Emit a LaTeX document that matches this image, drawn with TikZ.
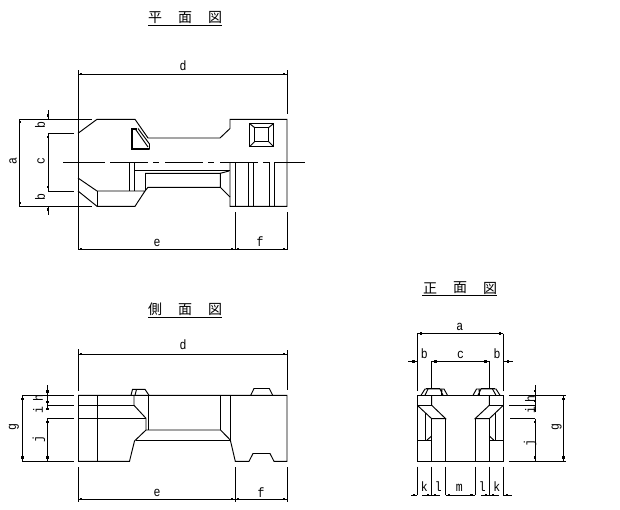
\documentclass[tikz,border=0pt]{standalone}
\usepackage{fontspec}
\setmainfont[FakeStretch=0.85]{Liberation Mono}
\newfontfamily\cjkf{Noto Sans CJK JP}
\newcommand{\tp}[2]{\fill (#1-1.4,#2-1.4) rectangle (#1+1.4,#2+1.4);}
\tikzset{
  lbl/.style={inner sep=0pt,font=\fontsize{13.5}{14}\selectfont},
  rlbl/.style={lbl,rotate=90},
  ttl/.style={inner sep=0pt,font=\cjkf\fontsize{14}{14}\selectfont},
  ln/.style={line width=0.95pt,line cap=butt,line join=miter},
  thk/.style={line width=2pt,line join=miter}
}
\begin{document}
\begin{tikzpicture}[x=1pt,y=-1pt,ln]
\useasboundingbox (0,0) rectangle (620,509);
\fill[white] (0,0) rectangle (620,509);
% ===== titles =====
\foreach \cx/\ch in {155/平,185/面,215/図}{\node[ttl] at (\cx,17.5) {\ch};}
\draw (148,25) -- (222,25);
\foreach \cx/\ch in {155/側,185/面,215/図}{\node[ttl] at (\cx,309.5) {\ch};}
\draw (148,317) -- (222,317);
\foreach \cx/\ch in {430/正,460/面,490/図}{\node[ttl] at (\cx,288) {\ch};}
\draw (422,295) -- (497,295);
% ===== plan view =====
\draw (78,70) -- (78,250);
\draw (287,70) -- (287,114);
\draw (235,212) -- (235,250);
\draw (287,212) -- (287,250);
\draw (78,74) -- (287,74); \tp{81}{74}\tp{284}{74}
\draw (78,249) -- (287,249); \tp{81}{249}\tp{232}{249}\tp{238}{249}\tp{284}{249}
\node[lbl] at (183,66) {d};
\node[lbl] at (157,242.5) {e};
\node[lbl] at (260,242) {f};
% outline
\draw (19,119.3) -- (92,119.3);
\draw (19,206.3) -- (92,206.3);
\draw (19,119.3) -- (19,206.3); \tp{20}{122}\tp{20}{203}
\draw (48,133.3) -- (74,133.3);
\draw (48,191) -- (74,191);
\draw (48,133.3) -- (48,191); \tp{48}{137}\tp{48}{187}
\draw (48,110) -- (48,119.3); \tp{48}{115.5}
\draw (48,206.3) -- (48,215); \tp{48}{209.5}
\node[rlbl] at (13,161) {a};
\node[rlbl] at (40,125.5) {b};
\node[rlbl] at (41,161) {c};
\node[rlbl] at (40,197) {b};
\draw (78,133.3) -- (97,119.3) -- (135,119.3) -- (148,138) -- (220,138) -- (230,128.5) -- (230,119.3) -- (287,119.3) -- (287,206.3) -- (230,206.3) -- (230,162);
\draw (78,178) -- (97,191) -- (145,191) -- (135,206.3) -- (97,206.3) -- (78,191);
\draw (97,191) -- (97,206.3);
% triangle window
\draw[thk] (137,129) -- (132,129) -- (132,149) -- (149,149);
\draw (138,128.5) -- (149.5,144) -- (149.5,149.5);
\draw (135,128.5) -- (148,147);
% centre line
\draw (63,162.3) -- (105,162.3);
\draw (110,162.3) -- (148,162.3);
\draw (153,162.3) -- (159,162.3);
\draw (165,162.3) -- (203,162.3);
\draw (208,162.3) -- (214,162.3);
\draw (220,162.3) -- (258,162.3);
\draw (263,162.3) -- (269,162.3);
\draw (274,162.3) -- (305,162.3);
% centre recess
\draw (129.3,162) -- (129.3,191);
\draw (134.3,162) -- (134.3,191);
\draw (135,170.3) -- (226,170.3);
\draw[line width=1.7pt] (135,170.6) -- (145,170.6);
\draw[line width=1.7pt] (225,170.6) -- (229.5,170.6);
\draw (145,173.3) -- (220.3,173.3) -- (220.3,187.3) -- (148,187.3) -- (145,191);
\draw (145,173.3) -- (145,191);
\draw (220.3,173.3) -- (229,171);
\draw (220.3,187.3) -- (230,197);
% right block ribs
\foreach \xx in {235.3,248.6,253.3,269.5,274.5}{\draw (\xx,162) -- (\xx,206.3);}
% square
\draw[line width=1.4pt] (249.5,123.5) rectangle (273.7,146.7);
\draw (254.5,127.5) rectangle (268.7,141.7);
\draw (249.5,123.5) -- (254.5,127.5);
\draw (273.7,123.5) -- (268.7,127.5);
\draw (249.5,146.7) -- (254.5,141.7);
\draw (273.7,146.7) -- (268.7,141.7);
% ===== side view =====
\draw (78,349) -- (78,391);
\draw (78,395.3) -- (78,461.3);
\draw (78,467) -- (78,502);
\draw (287,350) -- (287,390);
\draw (287,467) -- (287,502);
\draw (235.3,467) -- (235.3,502);
\draw (78,354) -- (287,354); \tp{81}{354}\tp{284}{354}
\draw (78,499) -- (287,499); \tp{81}{499}\tp{232}{499}\tp{238}{499}\tp{284}{499}
\node[lbl] at (183,345) {d};
\node[lbl] at (157,493) {e};
\node[lbl] at (261,492.5) {f};
\draw (22,395.3) -- (74,395.3);
\draw (22,461.3) -- (74,461.3);
\draw (48,405.3) -- (74,405.3);
\draw (48,418.3) -- (74,418.3);
\draw (22.3,395.3) -- (22.3,461.3); \tp{22.3}{399}\tp{22.3}{457.5}
\draw (47.5,385) -- (47.5,410); \tp{47.5}{391.5}\tp{47.5}{402}\tp{47.5}{409}
\draw (47.5,418.3) -- (47.5,461.3); \tp{47.5}{422}\tp{47.5}{457.5}
\node[rlbl] at (14,427) {g};
\node[rlbl] at (38,398) {h};
\node[rlbl] at (38,410.5) {i};
\node[rlbl] at (39,439) {j};
\draw (78,395.3) -- (287,395.3) -- (287,461.3) -- (274,461.3) -- (270,453.5) -- (253,453.5) -- (249,461.3) -- (235.3,461.3) -- (230.3,440) -- (220.5,430) -- (146,430);
\draw (78,461.3) -- (129.5,461.3) -- (134.5,441) -- (146,430) -- (146,418.3) -- (134,405.3) -- (134,395.3);
\draw (78,405.3) -- (134,405.3);
\draw (78,418.3) -- (146,418.3);
\draw (97,395.3) -- (97,461.3);
\draw (148.5,395.3) -- (148.5,430);
\draw (220.5,395.3) -- (220.5,430);
\draw (230.3,395.3) -- (230.3,440);
\draw (136,440) -- (230.3,440);
\draw (250.7,395.3) -- (254,388.5) -- (269.3,388.5) -- (272.7,395.3);
\draw (131,395.3) -- (132.5,389.3) -- (145,389.3) -- (149,395.3);
\draw (136.5,389.3) -- (135,395.3);
% ===== front view =====
\draw (417.3,333.7) -- (503.3,333.7); \tp{421}{333.7}\tp{500}{333.7}
\draw (417.3,333.7) -- (417.3,391);
\draw (503.3,333.7) -- (503.3,391);
\draw (431.7,361.3) -- (489.3,361.3); \tp{435.5}{361.3}\tp{485.5}{361.3}
\draw (431.7,361.3) -- (431.7,389);
\draw (489.3,361.3) -- (489.3,389);
\draw (408,361.3) -- (417.3,361.3); \tp{413.3}{361.3}
\draw (503.3,361.3) -- (513.3,361.3); \tp{508}{361.3}
\node[lbl] at (459.7,327) {a};
\node[lbl] at (424.3,354) {b};
\node[lbl] at (460.5,355) {c};
\node[lbl] at (497,354) {b};
\draw (417.3,395.3) rectangle (503.3,461.3);
\draw (417.3,405.3) -- (431.7,405.3) (489.3,405.3) -- (503.3,405.3);
\draw (431.7,395.3) -- (431.7,405.3) -- (445.7,418.7) -- (431.7,418.7) -- (417.3,405.3);
\draw (489.3,395.3) -- (489.3,405.3) -- (475,418.7) -- (489.3,418.7) -- (503.3,405.3);
\draw (431.7,418.7) -- (431.7,461.3);
\draw (445.7,418.7) -- (445.7,461.3);
\draw (475,418.7) -- (475,461.3);
\draw (489.3,418.7) -- (489.3,461.3);
\draw (417.3,440) -- (431.7,440) (489.3,440) -- (503.3,440);
\draw (425.3,412.7) -- (425.3,440) (495.3,412.7) -- (495.3,440);
\draw (427,440) -- (431.7,436) (493.7,440) -- (489.3,436);
% bumps
\draw (421,395.3) -- (425,389) -- (444,389) -- (447.5,395.3);
\draw (473,395.3) -- (476.5,389) -- (496,389) -- (500,395.3);
\draw[line width=1.7pt] (426,388.6) -- (440,388.6) (481,388.6) -- (495,388.6);
\draw (428,389) -- (425,395.3) (442,389) -- (441.5,395.3) (440,389) -- (443,395.3);
\draw (492.5,389) -- (496,395.3) (479,389) -- (479.5,395.3) (481,389) -- (478,395.3);
% right dims
\draw (509,395.3) -- (566,395.3);
\draw (509,405.3) -- (535,405.3);
\draw (510,418.7) -- (535,418.7);
\draw (509,461.3) -- (566,461.3);
\draw (535,385) -- (535,412); \tp{535}{391}\tp{535}{401}\tp{535}{410}
\draw (535,418.7) -- (535,461.3); \tp{535}{422}\tp{535}{457.5}
\draw (563.3,395.3) -- (563.3,461.3); \tp{563.3}{399}\tp{563.3}{457.5}
\node[rlbl] at (556.7,427.3) {g};
\node[rlbl] at (530,399) {h};
\node[rlbl] at (530,410) {i};
\node[rlbl] at (530,443) {j};
% bottom dims
\foreach \xx in {417.3,431.7,445.7,475,489.3,503.3}{\draw (\xx,466.7) -- (\xx,495);}
\draw (411,495) -- (417.3,495); \tp{414}{495}
\draw (422,495) -- (431.7,495); \tp{428}{495}
\draw (431.7,495) -- (440,495); \tp{435}{495}
\draw (445.7,495) -- (475,495); \tp{449}{495}\tp{471.5}{495}
\draw (481,495) -- (489.3,495); \tp{486}{495}
\draw (489.3,495) -- (499,495); \tp{493}{495}
\draw (503.3,495) -- (512,495); \tp{507}{495}
\node[lbl] at (424.3,487) {k};
\node[lbl] at (438.3,487) {l};
\node[lbl] at (459.3,488) {m};
\node[lbl] at (482.3,487) {l};
\node[lbl] at (496.7,487) {k};
\end{tikzpicture}
\end{document}
